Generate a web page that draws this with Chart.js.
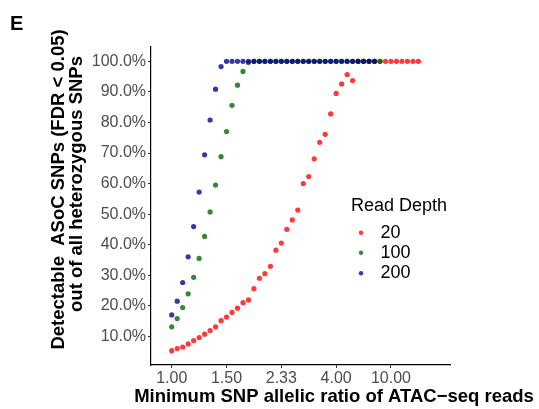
<!DOCTYPE html>
<html>
<head>
<meta charset="utf-8">
<script src="https://cdn.jsdelivr.net/npm/chart.js@4.4.1/dist/chart.umd.min.js"></script>
<style>
  html, body { margin: 0; padding: 0; background: #fff; }
  #wrap { width: 539px; height: 409px; position: relative; }
</style>
</head>
<body>
<div id="wrap"><canvas id="snpChart" width="539" height="409"></canvas></div>
<script>
// allelic fraction of the major allele (plotted position), 0.50 .. 0.95
const allelicFraction = [
  0.50, 0.51, 0.52, 0.53, 0.54, 0.55, 0.56, 0.57, 0.58, 0.59,
  0.60, 0.61, 0.62, 0.63, 0.64, 0.65, 0.66, 0.67, 0.68, 0.69,
  0.70, 0.71, 0.72, 0.73, 0.74, 0.75, 0.76, 0.77, 0.78, 0.79,
  0.80, 0.81, 0.82, 0.83, 0.84, 0.85, 0.86, 0.87, 0.88, 0.89,
  0.90, 0.91, 0.92, 0.93, 0.94, 0.95
];

// % detectable ASoC SNPs per read depth
const depth20 = [
  5.3, 6.0, 6.5, 7.5, 8.6, 9.6, 10.7, 11.9, 13.1, 15.1,
  16.3, 17.8, 19.2, 21.0, 21.9, 25.6, 29.0, 30.5, 32.9, 38.2,
  40.5, 45.0, 48.1, 51.3, 60.0, 62.3, 68.1, 73.5, 76.1, 82.8,
  89.5, 92.6, 95.7, 93.7, 100, 100, 100, 100, 100, 100,
  100, 100, 100, 100, 100, 100
];
const depth100 = [
  13.1, 15.8, 19.4, 23.9, 29.3, 35.5, 42.7, 50.7, 59.5, 68.8,
  77.0, 85.6, 92.2, 96.7, 99.6, 100, 100, 100, 100, 100,
  100, 100, 100, 100, 100, 100, 100, 100, 100, 100,
  100, 100, 100, 100, 100, 100, 100, 100, 100
];
const depth200 = [
  17.0, 21.5, 27.6, 36.0, 45.9, 57.2, 69.4, 80.8, 90.9, 98.3,
  100, 100, 100, 100, 100, 100, 100, 100, 100, 100,
  100, 100, 100, 100, 100, 100, 100, 100, 100, 100,
  100, 100, 100, 100, 100, 100, 100, 100
];

const seriesNames = ["20", "100", "200"];
const xTickValues = [0.5, 0.6, 0.7, 0.8, 0.9];
const xTickLabels = ["1.00", "1.50", "2.33", "4.00", "10.00"];
const yTickValues = [10, 20, 30, 40, 50, 60, 70, 80, 90, 100];

const FONT = "'Liberation Sans', Arial, Helvetica, sans-serif";
const colors = [
  "rgba(255, 0, 0, 0.78)",   // red
  "rgba(0, 100, 0, 0.78)",   // dark green
  "rgba(0, 0, 139, 0.78)"    // dark blue
];

function toPoints(vals) {
  return vals.map((v, i) => ({ x: allelicFraction[i], y: v }));
}

const datasets = [depth20, depth100, depth200].map((vals, i) => ({
  label: seriesNames[i],
  data: toPoints(vals),
  backgroundColor: colors[i],
  borderWidth: 0,
  pointRadius: 2.6,
  order: 3 - i
}));

// titles, panel letter and the legend drawn on top
const annotations = {
  id: "annotations",
  afterDraw(chart) {
    const ctx = chart.ctx;
    ctx.save();
    ctx.fillStyle = "#000";
    ctx.textBaseline = "middle";

    ctx.font = "bold 20px " + FONT;
    ctx.textAlign = "left";
    ctx.fillText("E", 10, 24);

    ctx.font = "bold 18.5px " + FONT;
    ctx.textAlign = "center";
    ctx.fillText("Minimum SNP allelic ratio of ATAC\u2212seq reads", 334, 397);

    ctx.save();
    ctx.translate(58.5, 189.5);
    ctx.rotate(-Math.PI / 2);
    ctx.fillText("Detectable  ASoC SNPs (FDR < 0.05)", 0, 0);
    ctx.restore();
    ctx.save();
    ctx.translate(77, 184);
    ctx.rotate(-Math.PI / 2);
    ctx.fillText("out of all heterozygous SNPs", 0, 0);
    ctx.restore();

    // legend
    ctx.textAlign = "left";
    ctx.font = "18px " + FONT;
    ctx.fillText("Read Depth", 351, 206);
    const rows = [232.7, 252.7, 273.3];
    seriesNames.forEach((name, i) => {
      ctx.fillStyle = colors[i];
      ctx.beginPath();
      ctx.arc(361, rows[i], 2.2, 0, Math.PI * 2);
      ctx.fill();
      ctx.fillStyle = "#000";
      ctx.fillText(name, 380.5, rows[i]);
    });
    ctx.restore();
  }
};

const ctx = document.getElementById("snpChart").getContext("2d");
new Chart(ctx, {
  type: "scatter",
  data: { datasets },
  plugins: [annotations],
  options: {
    responsive: false,
    animation: false,
    layout: { padding: { left: 0, top: 47, right: 89, bottom: 0 } },
    plugins: {
      legend: { display: false },
      tooltip: { enabled: false }
    },
    scales: {
      x: {
        type: "linear",
        min: 0.4622,
        max: 1.0077,
        afterFit: s => { s.height = 44; },
        afterBuildTicks: s => { s.ticks = xTickValues.map(v => ({ value: v })); },
        border: { color: "#000", width: 1.2 },
        grid: { drawOnChartArea: false, tickLength: 3, color: "#333" },
        ticks: {
          color: "#4d4d4d",
          font: { family: FONT, size: 16 },
          padding: 1,
          maxRotation: 0,
          callback: v => xTickLabels[xTickValues.indexOf(Math.round(v * 10) / 10)]
        }
      },
      y: {
        min: 0.6,
        max: 104.7,
        afterFit: s => { s.width = 151; },
        afterBuildTicks: s => { s.ticks = yTickValues.map(v => ({ value: v })); },
        border: { color: "#000", width: 1.2 },
        grid: { drawOnChartArea: false, tickLength: 3, color: "#333" },
        ticks: {
          color: "#4d4d4d",
          font: { family: FONT, size: 16 },
          padding: 2,
          callback: v => v.toFixed(1) + "%"
        }
      }
    }
  }
});
</script>
</body>
</html>
